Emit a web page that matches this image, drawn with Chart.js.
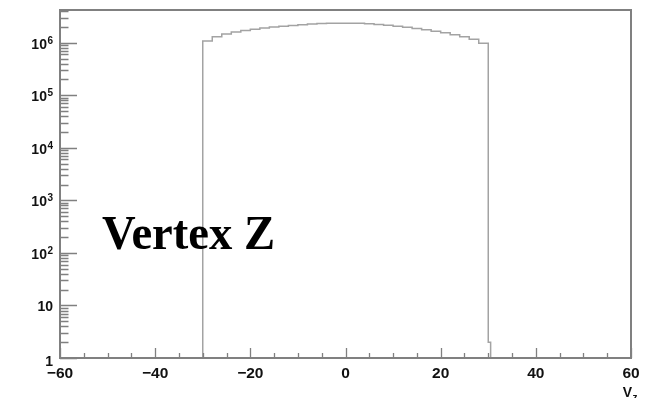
<!DOCTYPE html>
<html>
<head>
<meta charset="utf-8">
<script src="https://cdn.jsdelivr.net/npm/chart.js@4/dist/chart.umd.min.js"></script>
<style>
  html, body { margin: 0; padding: 0; background: #fff; }
  #c { display: block; }
</style>
</head>
<body>
<canvas id="c" width="654" height="398"></canvas>
<script>
// Vertex Z histogram: bin edges (cm) and entries per bin
const binEdges = [-30, -28, -26, -24, -22, -20, -18, -16, -14, -12, -10, -8, -6, -4, -2,
                  0, 2, 4, 6, 8, 10, 12, 14, 16, 18, 20, 22, 24, 26, 28, 30, 30.5];
const binCounts = [1.08e6, 1.30e6, 1.47e6, 1.60e6, 1.71e6, 1.81e6, 1.91e6, 1.99e6, 2.06e6, 2.13e6,
                   2.20e6, 2.26e6, 2.31e6, 2.34e6, 2.35e6, 2.35e6, 2.34e6, 2.30e6, 2.22e6, 2.14e6,
                   2.06e6, 1.97e6, 1.87e6, 1.77e6, 1.66e6, 1.54e6, 1.42e6, 1.30e6, 1.16e6, 0.98e6,
                   2];

// axis ranges and tick labels
const xRange = [-60, 60];
const yRange = [1, 4.19e6];
const xMajorTicks = [-60, -40, -20, 0, 20, 40, 60];
const xTickLabels = ['\u221260', '\u221240', '\u221220', '0', '20', '40', '60'];
const xMinorStep = 5;
const yDecades = [0, 1, 2, 3, 4, 5, 6];
const yTickLabels = ['1', '10', '10^2', '10^3', '10^4', '10^5', '10^6'];
const titleText = 'Vertex Z';
const xAxisTitle = ['V', 'z'];

// stepped outline of the histogram, closed down to the axis floor at both ends
const outline = [{ x: binEdges[0], y: yRange[0] }];
binCounts.forEach((c, i) => outline.push({ x: binEdges[i], y: c }));
outline.push({ x: binEdges[binEdges.length - 1], y: binCounts[binCounts.length - 1] });
outline.push({ x: binEdges[binEdges.length - 1], y: yRange[0] });

const AXIS = '#808080';
const LABEL_FONT = '"Liberation Sans", Arial, Helvetica, sans-serif';

const frameAndLabels = {
  id: 'frameAndLabels',
  afterDraw(chart) {
    const ctx = chart.ctx;
    const xs = chart.scales.x, ys = chart.scales.y;
    const a = chart.chartArea;
    ctx.save();

    // frame
    ctx.strokeStyle = AXIS;
    ctx.lineWidth = 2;
    ctx.strokeRect(a.left, a.top, a.right - a.left, a.bottom - a.top);

    // x ticks, pointing up from the bottom axis
    ctx.lineWidth = 1.3;
    ctx.beginPath();
    for (let v = xRange[0]; v <= xRange[1]; v += xMinorStep) {
      const px = Math.round(xs.getPixelForValue(v)) + 0.5;
      const len = xMajorTicks.includes(v) ? 10 : 5;
      ctx.moveTo(px, a.bottom);
      ctx.lineTo(px, a.bottom - len);
    }
    // y ticks, pointing right from the left axis
    yDecades.forEach(d => {
      for (let m = 1; m <= 9; m++) {
        const v = m * Math.pow(10, d);
        if (v > yRange[1]) break;
        const py = Math.round(ys.getPixelForValue(v)) + 0.5;
        const len = m === 1 ? 17 : 8.5;
        ctx.moveTo(a.left, py);
        ctx.lineTo(a.left + len, py);
      }
    });
    ctx.stroke();

    // x tick labels
    ctx.fillStyle = '#111';
    ctx.font = 'bold 15.5px ' + LABEL_FONT;
    ctx.textAlign = 'center';
    ctx.textBaseline = 'alphabetic';
    xMajorTicks.forEach((v, i) => {
      ctx.fillText(xTickLabels[i], xs.getPixelForValue(v), 377.5);
    });

    // y tick labels (powers of ten with raised exponents)
    const right = 53;
    yDecades.forEach((d, i) => {
      const py = ys.getPixelForValue(Math.pow(10, d));
      const parts = yTickLabels[i].split('^');
      ctx.textAlign = 'left';
      if (parts.length === 1) {
        ctx.font = 'bold 14px ' + LABEL_FONT;
        const w = ctx.measureText(parts[0]).width;
        ctx.fillText(parts[0], right - w, py + 5.5 + (d === 0 ? 2 : 0));
      } else {
        ctx.font = 'bold 10px ' + LABEL_FONT;
        const ws = ctx.measureText(parts[1]).width;
        ctx.fillText(parts[1], right - ws, py + 1);
        ctx.font = 'bold 14px ' + LABEL_FONT;
        const wb = ctx.measureText(parts[0]).width;
        ctx.fillText(parts[0], right - ws - wb - 0.5, py + 6);
      }
    });

    // x axis title with subscript
    ctx.font = 'bold 14px ' + LABEL_FONT;
    ctx.textAlign = 'left';
    const wV = ctx.measureText(xAxisTitle[0]).width;
    ctx.fillText(xAxisTitle[0], 632 - wV, 397);
    ctx.font = 'bold 10px ' + LABEL_FONT;
    ctx.fillText(xAxisTitle[1], 632.5, 401);

    // plot title inside the frame
    ctx.font = 'bold 49px "Liberation Serif", "Times New Roman", serif';
    const tw = ctx.measureText(titleText).width;
    const sx = 173 / tw;
    ctx.translate(102, 249);
    ctx.scale(sx, 1);
    ctx.fillStyle = '#000';
    ctx.fillText(titleText, 0, 0);

    ctx.restore();
  }
};

new Chart(document.getElementById('c'), {
  type: 'line',
  data: {
    datasets: [{
      data: outline,
      stepped: 'before',
      borderColor: '#a3a3a3',
      borderWidth: 1.5,
      pointRadius: 0,
      fill: false
    }]
  },
  options: {
    responsive: false,
    animation: false,
    devicePixelRatio: 1,
    layout: { padding: { left: 60, right: 23, top: 10, bottom: 40 } },
    plugins: { legend: { display: false }, tooltip: { enabled: false } },
    scales: {
      x: { type: 'linear', min: xRange[0], max: xRange[1], display: false },
      y: { type: 'logarithmic', min: yRange[0], max: yRange[1], display: false }
    }
  },
  plugins: [frameAndLabels]
});
</script>
</body>
</html>
